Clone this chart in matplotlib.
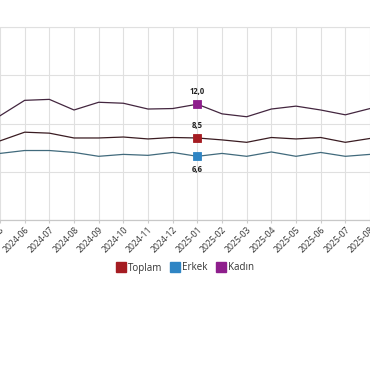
import matplotlib
matplotlib.use("Agg")
import matplotlib.pyplot as plt
from matplotlib.lines import Line2D

# months (2024-05 lies just left of the visible window)
months = ["2024-05", "2024-06", "2024-07", "2024-08", "2024-09", "2024-10",
          "2024-11", "2024-12", "2025-01", "2025-02", "2025-03", "2025-04",
          "2025-05", "2025-06", "2025-07", "2025-08"]
toplam = [8.2, 9.1, 9.0, 8.5, 8.5, 8.6, 8.4, 8.55, 8.5, 8.3, 8.05, 8.55, 8.4, 8.55, 8.05, 8.45]
erkek = [6.9, 7.2, 7.2, 7.0, 6.6, 6.8, 6.7, 7.0, 6.6, 6.9, 6.6, 7.05, 6.6, 7.0, 6.6, 6.8]
kadin = [10.8, 12.4, 12.5, 11.4, 12.2, 12.1, 11.5, 11.55, 12.0, 11.0, 10.7, 11.5, 11.8, 11.4, 10.9, 11.55]

names = ["Toplam", "Erkek", "Kadın"]
marker_colors = ["#a51c22", "#2f85c4", "#8e1e8c"]
line_colors = ["#3a1c22", "#416a7c", "#43263f"]
highlight = "2025-01"

plt.rcParams["font.family"] = ["Open Sans", "DejaVu Sans"]

fig = plt.figure(figsize=(3.7, 3.8), dpi=100)
ax = fig.add_axes([0.0, 160 / 380, 1.0, 193 / 380])

x = list(range(-1, len(months) - 1))  # 2024-06 -> 0
series = [toplam, erkek, kadin]
hi = months.index(highlight)

for vals, lc, mc in zip(series, line_colors, marker_colors):
    ax.plot(x, vals, color=lc, lw=0.9, zorder=3)
    ax.plot(x[hi], vals[hi], "s", ms=5.6, color=mc, mec=mc, mew=0.6, zorder=4)

# point labels at the highlighted month
ax.annotate(f"{kadin[hi]:.1f}".replace(".", ","), (x[hi], kadin[hi]), xytext=(0, 6),
            textcoords="offset points", ha="center", va="bottom", fontsize=5.5, fontweight="bold", color="#222")
ax.annotate(f"{toplam[hi]:.1f}".replace(".", ","), (x[hi], toplam[hi]), xytext=(0, 5.5),
            textcoords="offset points", ha="center", va="bottom", fontsize=5.5, fontweight="bold", color="#222")
ax.annotate(f"{erkek[hi]:.1f}".replace(".", ","), (x[hi], erkek[hi]), xytext=(0, -6),
            textcoords="offset points", ha="center", va="top", fontsize=5.5, fontweight="bold", color="#222")

ax.set_xlim(-0.52, 13.96)
ax.set_ylim(0, 20)
ax.set_xticks(x)
ax.set_xticklabels(months, rotation=45, ha="right", va="top", rotation_mode="anchor",
                   fontsize=6.2, color="#333")
ax.set_yticks([0, 5, 10, 15, 20])
ax.tick_params(axis="x", length=2, color="#ccc", pad=2)
ax.tick_params(axis="y", length=0, labelleft=False)
ax.grid(True, color="#e0e0e0", lw=0.8)
ax.set_axisbelow(True)
for s in ["left", "right"]:
    ax.spines[s].set_visible(False)
ax.spines["top"].set_color("#e0e0e0")
ax.spines["top"].set_linewidth(0.8)
ax.spines["bottom"].set_color("#c8c8c8")
ax.spines["bottom"].set_linewidth(0.9)

handles = [Line2D([], [], ls="none", marker="s", ms=7, color=c, mec=c) for c in marker_colors]
fig.legend(handles, names, loc="center", bbox_to_anchor=(0.5, 1 - 268 / 380), ncol=3,
           frameon=False, fontsize=7, handletextpad=0.2, columnspacing=0.9, handlelength=1.0,
           labelcolor="#333")

fig.savefig("out.png", dpi=100)
